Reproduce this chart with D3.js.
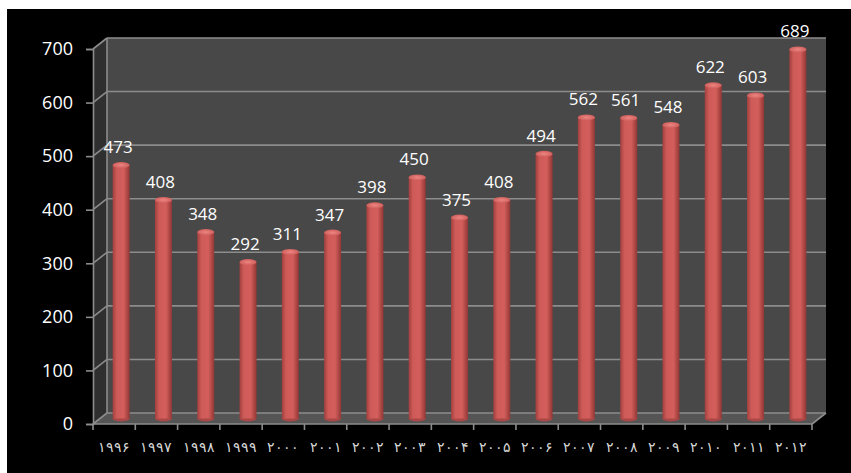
<!DOCTYPE html>
<html>
<head>
<meta charset="utf-8">
<script src="https://cdn.jsdelivr.net/npm/d3@7"></script>
<style>
  body { margin: 0; background: #fff; }
  svg { display: block; }
</style>
</head>
<body>
<svg id="chart" width="851" height="473"></svg>
<script>
// years (Persian digits) and values
var years = ["۱۹۹۶", "۱۹۹۷", "۱۹۹۸", "۱۹۹۹", "۲۰۰۰", "۲۰۰۱", "۲۰۰۲", "۲۰۰۳", "۲۰۰۴",
             "۲۰۰۵", "۲۰۰۶", "۲۰۰۷", "۲۰۰۸", "۲۰۰۹", "۲۰۱۰", "۲۰۱۱", "۲۰۱۲"];
var values = [473, 408, 348, 292, 311, 347, 398, 450, 375, 408, 494, 562, 561, 548, 622, 603, 689];
var yTicks = [0, 100, 200, 300, 400, 500, 600, 700];

var svg = d3.select("#chart");

// black backdrop
svg.append("rect").attr("x", 7).attr("y", 9).attr("width", 844).attr("height", 464).attr("fill", "#000");

// front plane scales, depth offset for the 3d look
var x = d3.scaleBand().domain(years).range([93, 812]);
var y = d3.scaleLinear().domain([0, 700]).range([424, 49]);
var dx = 14, dy = -11;

var defs = svg.append("defs");
var grad = defs.append("linearGradient").attr("id", "barGrad").attr("x1", "0%").attr("x2", "100%");
grad.append("stop").attr("offset", "0%").attr("stop-color", "#a0403e");
grad.append("stop").attr("offset", "25%").attr("stop-color", "#cf5b58");
grad.append("stop").attr("offset", "65%").attr("stop-color", "#d35e5b");
grad.append("stop").attr("offset", "100%").attr("stop-color", "#923735");
var topGrad = defs.append("radialGradient").attr("id", "topGrad");
topGrad.append("stop").attr("offset", "0%").attr("stop-color", "#ee8682");
topGrad.append("stop").attr("offset", "100%").attr("stop-color", "#cf5f5c");

var x0 = x.range()[0], x1 = x.range()[1];

// walls
svg.append("rect")
    .attr("x", x0 + dx).attr("y", y(700) + dy)
    .attr("width", x1 - x0).attr("height", y(0) - y(700))
    .attr("fill", "#484848");
svg.append("polygon")
    .attr("points", [[x0, y(700)], [x0 + dx, y(700) + dy], [x0 + dx, y(0) + dy], [x0, y(0)]].join(" "))
    .attr("fill", "#2f2f2f");
svg.append("polygon")
    .attr("points", [[x0, y(0)], [x0 + dx, y(0) + dy], [x1 + dx, y(0) + dy], [x1, y(0)]].join(" "))
    .attr("fill", "#555");

// gridlines on back and side wall
var grid = svg.append("g").attr("stroke", "#8c8c8c").attr("stroke-width", 1.6).attr("fill", "none");
grid.selectAll(".h").data(yTicks).enter().append("line")
    .attr("x1", x0 + dx).attr("x2", x1 + dx)
    .attr("y1", function (d) { return y(d) + dy; })
    .attr("y2", function (d) { return y(d) + dy; });
grid.selectAll(".d").data(yTicks).enter().append("line")
    .attr("x1", x0).attr("x2", x0 + dx)
    .attr("y1", function (d) { return y(d); })
    .attr("y2", function (d) { return y(d) + dy; });
grid.append("line").attr("x1", x0 + dx).attr("x2", x0 + dx).attr("y1", y(700) + dy).attr("y2", y(0) + dy);
grid.append("line").attr("x1", x1).attr("x2", x1 + dx).attr("y1", y(0)).attr("y2", y(0) + dy);

// bars as cylinders, sitting half way into the depth
var bw = 17, ry = 3;
var bars = svg.append("g").selectAll("g").data(values).enter().append("g");
function cx(d, i) { return x(years[i]) + x.bandwidth() / 2 + dx / 2; }
function yb(v) { return y(v) + dy / 2; }

bars.append("ellipse")
    .attr("cx", cx).attr("cy", yb(0)).attr("rx", bw / 2).attr("ry", ry)
    .attr("fill", "#a94846");
bars.append("rect")
    .attr("x", function (d, i) { return cx(d, i) - bw / 2; })
    .attr("y", function (d) { return yb(d); })
    .attr("width", bw)
    .attr("height", function (d) { return yb(0) - yb(d); })
    .attr("fill", "url(#barGrad)");
bars.append("ellipse")
    .attr("cx", cx).attr("cy", function (d) { return yb(d); })
    .attr("rx", bw / 2).attr("ry", ry)
    .attr("fill", "url(#topGrad)");

// value labels
bars.append("text")
    .attr("x", function (d, i) { return cx(d, i) - 3; })
    .attr("y", function (d) { return yb(d) - 12; })
    .attr("text-anchor", "middle")
    .attr("fill", "#fff")
    .attr("font-family", "'Open Sans', 'Noto Sans', sans-serif")
    .attr("font-size", 17)
    .text(function (d) { return d; });

// y axis
var yAxis = svg.append("g")
    .attr("transform", "translate(" + x0 + ",0)")
    .call(d3.axisLeft(y).tickValues(yTicks).tickSize(7).tickPadding(13));
yAxis.select(".domain").attr("stroke", "#8c8c8c").attr("stroke-width", 1.6);
yAxis.selectAll(".tick line").attr("stroke", "#8c8c8c").attr("stroke-width", 1.6);
yAxis.selectAll("text")
    .attr("fill", "#fff")
    .attr("font-family", "'Open Sans', 'Noto Sans', sans-serif")
    .attr("font-size", 18);

// x axis: front edge, ticks at category boundaries
var xAxis = svg.append("g").attr("transform", "translate(0," + y(0) + ")");
xAxis.append("line").attr("x1", x0).attr("x2", x1).attr("stroke", "#8c8c8c").attr("stroke-width", 1.6);
xAxis.selectAll(".tk").data(years.concat(["end"])).enter().append("line")
    .attr("x1", function (d, i) { return x0 + i * x.step(); })
    .attr("x2", function (d, i) { return x0 + i * x.step(); })
    .attr("y1", 0).attr("y2", 6)
    .attr("stroke", "#8c8c8c").attr("stroke-width", 1.6);
xAxis.selectAll("text").data(years).enter().append("text")
    .attr("x", function (d) { return x(d) + x.bandwidth() / 2; })
    .attr("y", 28)
    .attr("text-anchor", "middle")
    .attr("fill", "#d8d8d8")
    .attr("font-family", "'DejaVu Sans', sans-serif")
    .attr("font-weight", 200)
    .attr("font-size", 14)
    .attr("letter-spacing", 3)
    .text(function (d) { return d; });
</script>
</body>
</html>
